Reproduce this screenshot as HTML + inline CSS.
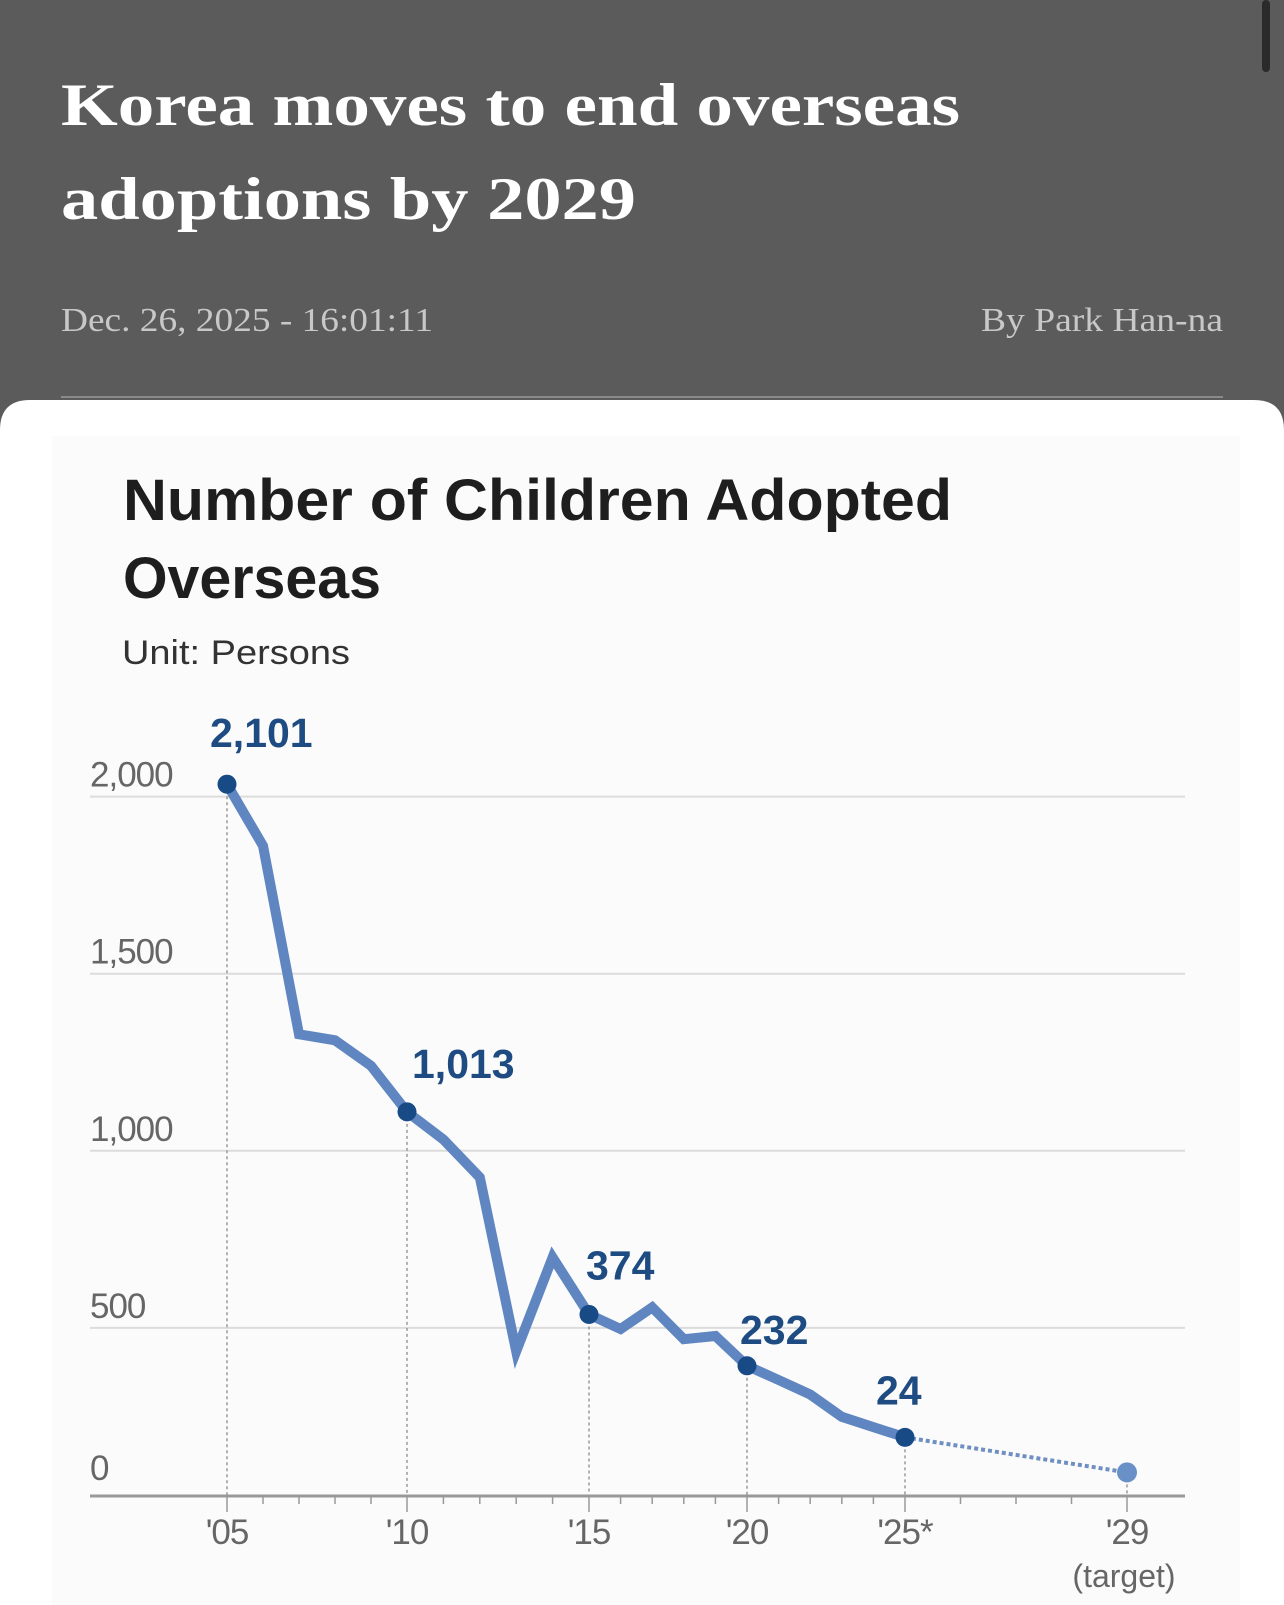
<!DOCTYPE html>
<html><head><meta charset="utf-8"><style>
html,body{margin:0;padding:0;width:1284px;height:1605px;overflow:hidden;background:#5b5b5b}
svg{display:block}
</style></head><body>
<svg id="page" width="1284" height="1605" viewBox="0 0 1284 1605">
<rect x="0" y="0" width="1284" height="1605" fill="#5b5b5b"/>
<rect x="1262" y="0" width="8" height="72" rx="4" fill="#2a2a2a"/>
<text x="61" y="125" font-family="Liberation Serif, serif" font-weight="bold" font-size="60" fill="#ffffff" textLength="899" lengthAdjust="spacingAndGlyphs">Korea moves to end overseas</text>
<text x="61" y="219" font-family="Liberation Serif, serif" font-weight="bold" font-size="60" fill="#ffffff" textLength="575" lengthAdjust="spacingAndGlyphs">adoptions by 2029</text>
<text x="61" y="331" font-family="Liberation Serif, serif" font-size="34" fill="#c8c8c8" textLength="372" lengthAdjust="spacingAndGlyphs">Dec. 26, 2025 - 16:01:11</text>
<text x="1223" y="331" text-anchor="end" font-family="Liberation Serif, serif" font-size="34" fill="#c8c8c8" textLength="242" lengthAdjust="spacingAndGlyphs">By Park Han-na</text>
<line x1="61" y1="397" x2="1223" y2="397" stroke="#8a8a8a" stroke-width="2"/>
<path d="M0,430 Q0,400 30,400 L1254,400 Q1284,400 1284,430 L1284,1605 L0,1605 Z" fill="#ffffff"/>
<rect x="52" y="436" width="1188" height="1169" fill="#fbfbfb"/>
<text x="123" y="520" font-family="Liberation Sans, sans-serif" font-weight="bold" font-size="58" fill="#1e1e1e" textLength="829" lengthAdjust="spacingAndGlyphs">Number of Children Adopted</text>
<text x="123" y="598" font-family="Liberation Sans, sans-serif" font-weight="bold" font-size="58" fill="#1e1e1e" textLength="258" lengthAdjust="spacingAndGlyphs">Overseas</text>
<text x="122" y="664" font-family="Liberation Sans, sans-serif" font-size="34" fill="#333" textLength="228" lengthAdjust="spacingAndGlyphs">Unit: Persons</text>
<g id="chart"></g>
</svg>
<script>
var years = [2005,2006,2007,2008,2009,2010,2011,2012,2013,2014,2015,2016,2017,2018,2019,2020,2021,2022,2023,2024,2025];
var values = [2035,1861,1329,1312,1240,1110,1032,925,434,699,538,497,558,468,477,393,353,312,249,220,191];
var targetYear = 2029;
var targetValue = 92;
var yTicks = [0,500,1000,1500,2000];
var yTickLabels = ['0','500','1,000','1,500','2,000'];
var xTickYears = [2005,2010,2015,2020,2025,2029];
var xTickLabels = ["'05","'10","'15","'20","'25*","'29"];
var markedYears = [2005,2010,2015,2020,2025];
var markedLabels = ['2,101','1,013','374','232','24'];

var NS='http://www.w3.org/2000/svg';
var g=document.getElementById('chart');
var xDom=[2005,2010,2015,2020,2025,2029], xRng=[227,407,589,747,905,1127];
function xs(v){for(var i=0;i<xDom.length-1;i++){if(v<=xDom[i+1]||i==xDom.length-2){var t=(v-xDom[i])/(xDom[i+1]-xDom[i]);return xRng[i]+t*(xRng[i+1]-xRng[i]);}}}
function ys(v){return 1505-v*0.3542;}
function mk(tag,attrs){var e=document.createElementNS(NS,tag);for(var k in attrs)e.setAttribute(k,attrs[k]);g.appendChild(e);return e;}

yTicks.forEach(function(v,i){
  if(v>0){var l=mk('line',{x1:90,x2:1185,y1:ys(v),y2:ys(v),stroke:'#dcdcdc','stroke-width':2});
  
  }
  var t=mk('text',{x:90,y:ys(v)-10+(v==0?-15:0),'font-family':'Liberation Sans, sans-serif','font-size':35,fill:'#666','letter-spacing':'-1'});
  t.textContent=yTickLabels[i];
  
  
});
xTickYears.forEach(function(yr){
  var v = yr==targetYear?targetValue:values[years.indexOf(yr)];
  var l=mk('line',{x1:xs(yr),x2:xs(yr),y1:ys(v),y2:1496,stroke:'#999','stroke-width':1.5,'stroke-dasharray':'3,3'});
  
  
});
var ax=mk('line',{x1:90,x2:1185,y1:1496,y2:1496,stroke:'#999','stroke-width':3});


for(var yr=2005;yr<=2029;yr++){
  var major=xTickYears.indexOf(yr)>=0;
  var tk=mk('line',{x1:xs(yr),x2:xs(yr),y1:1496,y2:major?1512:1504,stroke:'#999','stroke-width':1.5});
  
  
}
xTickYears.forEach(function(yr,i){
  var t=mk('text',{x:xs(yr),y:1544,'text-anchor':'middle','font-family':'Liberation Sans, sans-serif','font-size':35,fill:'#666','letter-spacing':'-1'});
  t.textContent=xTickLabels[i];
  
  
});
var tg=mk('text',{x:xs(targetYear)-3,y:1587,'text-anchor':'middle','font-family':'Liberation Sans, sans-serif','font-size':32,fill:'#666'});
tg.textContent='(target)';


var last=years.length-1;
var pj=mk('line',{x1:xs(years[last]),y1:ys(values[last]),x2:xs(targetYear),y2:ys(targetValue),stroke:'#6f8fc2','stroke-width':4,'stroke-dasharray':'4,3'});


var d=years.map(function(y,i){return (i?'L':'M')+xs(y).toFixed(1)+','+ys(values[i]).toFixed(1);}).join(' ');
var p=mk('path',{d:d,fill:'none',stroke:'#5f86c1','stroke-width':10,'stroke-linejoin':'miter','stroke-linecap':'butt'});


var ldx=[-17,5,-3,-7,-29], ldy=[-37,-34,-35,-22,-33];
markedYears.forEach(function(yr,i){
  var v=values[years.indexOf(yr)];
  var c=mk('circle',{cx:xs(yr),cy:ys(v),r:9.5,fill:'#184b86'});
  
  
  var t=mk('text',{x:xs(yr)+ldx[i],y:ys(v)+ldy[i],'font-family':'Liberation Sans, sans-serif','font-weight':'bold','font-size':41,fill:'#1e4c82'});
  t.textContent=markedLabels[i];
  
  
});
var tc=mk('circle',{cx:xs(targetYear),cy:ys(targetValue),r:10,fill:'#6a90c8'});


</script>
</body></html>
